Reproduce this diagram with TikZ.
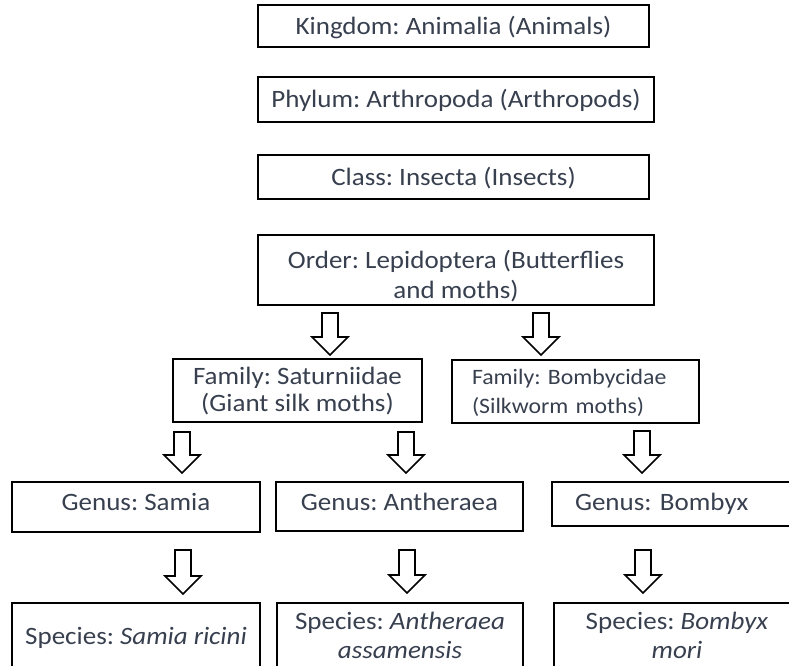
\documentclass[tikz,border=0pt]{standalone}
\usepackage{fontspec}
\setmainfont{Carlito}[FakeStretch=1.08]
\definecolor{txt}{HTML}{38404F}
\tikzset{
  box/.style={draw=black, line width=1.8pt, inner sep=0pt, text=txt,
    font=\fontsize{25}{29}\selectfont\frenchspacing, align=center,
    text height=16pt, text depth=0pt},
  blockarrow/.style={draw=black, line width=1.6pt, fill=white, line join=miter},
}
\newcommand{\blockarr}[2]{%
  \draw[blockarrow] (#1) ++(-8,0) -- ++(16,0) -- ++(0,{#2-18}) -- ++(10,0)
    -- ++(-18,18) -- ++(-18,-18) -- ++(10,0) -- cycle;}
\begin{document}
\frenchspacing
\begin{tikzpicture}[x=1pt,y=-1pt]
\useasboundingbox[fill=white] (0,0) rectangle (789,665);

\node[box, minimum width=391pt, minimum height=42pt] (kingdom) at (453.5,26) {Kingdom: Animalia (Animals)};
\node[box, minimum width=396pt, minimum height=45pt] (phylum) at (456,99.5) {Phylum: Arthropoda (Arthropods)};
\node[box, minimum width=391pt, minimum height=44pt] (class) at (453.5,177) {Class: Insecta (Insects)};
\node[box, minimum width=396pt, minimum height=70pt, font=\fontsize{25}{30}\selectfont\frenchspacing,
  text height=56pt] (order) at (456,270) {Order: Lepidoptera (Butterflies\\and moths)};

\node[box, minimum width=249pt, minimum height=63pt, text height=42pt,
  font=\fontsize{25}{27}\selectfont\frenchspacing] (satur) at (297.5,390.5) {Family: Saturniidae\\(Giant silk moths)};
\node[box, minimum width=247pt, minimum height=63pt, font=\fontsize{22}{29}\selectfont\frenchspacing,
  text height=14pt, text depth=29pt, align=left, inner xsep=20pt, text width=207pt] (bomby) at (575.5,391.5) {Family: Bombycidae\\(Silkworm moths)};

\node[box, minimum width=248pt, minimum height=50pt, text depth=9pt] (gsamia) at (136,507) {Genus: Samia};
\node[box, minimum width=247pt, minimum height=49pt, text depth=9pt] (ganth) at (399.5,506.5) {Genus: Antheraea};
\node[box, minimum width=248pt, minimum height=44pt, text depth=4pt, align=left,
  inner xsep=23pt, text width=202pt] (gbomb) at (676,504) {Genus: Bombyx};

\node[box, minimum width=248pt, minimum height=66pt] (ssamia) at (136,636) {Species: \textit{Samia ricini}};
\node[box, minimum width=246pt, minimum height=66pt, text height=45pt] (santh) at (400,636) {Species: \textit{Antheraea}\\\textit{assamensis}};
\node[box, minimum width=246pt, minimum height=66pt, text height=45pt] (sbomb) at (677,636) {Species: \textit{Bombyx}\\\textit{mori}};

\coordinate (a1) at (330,313);
\coordinate (a2) at (541,313);
\coordinate (a3) at (182,432);
\coordinate (a4) at (406,432);
\coordinate (a5) at (642,431);
\coordinate (a6) at (183,550);
\coordinate (a7) at (407,550);
\coordinate (a8) at (643,550);
\blockarr{a1}{42}
\blockarr{a2}{42}
\blockarr{a3}{41}
\blockarr{a4}{41}
\blockarr{a5}{42}
\blockarr{a6}{44}
\blockarr{a7}{43}
\blockarr{a8}{43}
\end{tikzpicture}
\end{document}
